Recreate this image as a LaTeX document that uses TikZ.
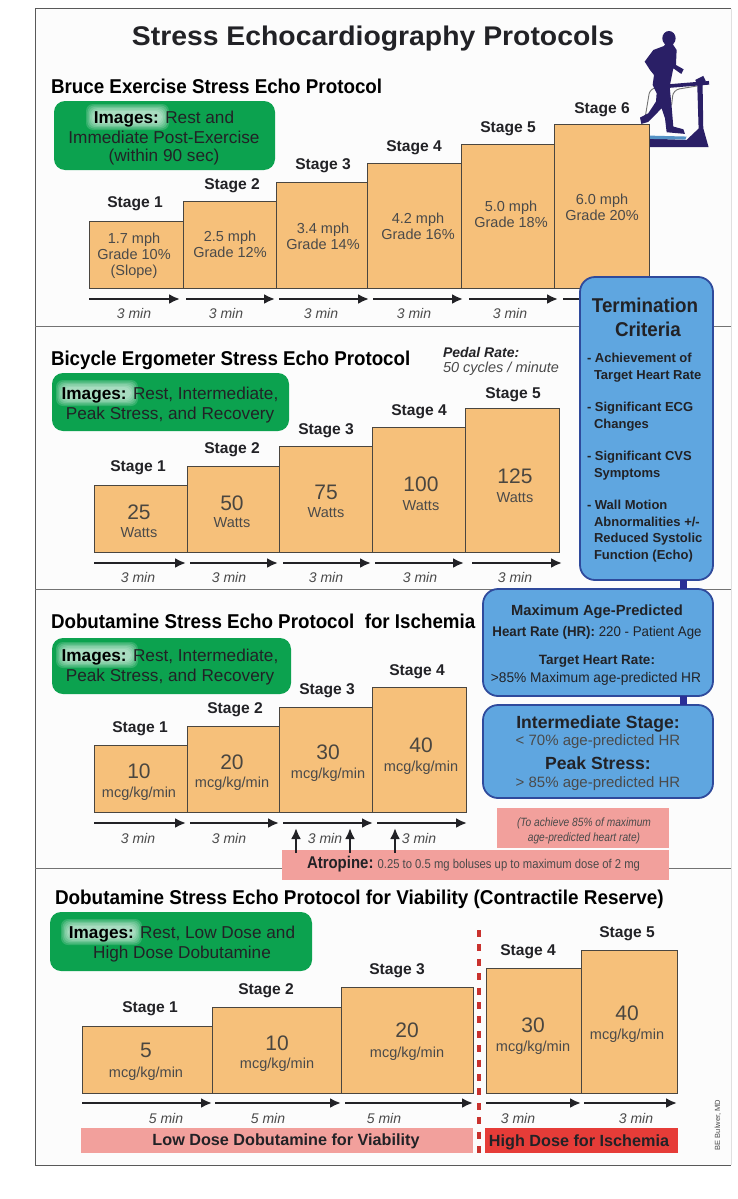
\documentclass[tikz,border=0pt]{standalone}
\usepackage{fontspec}
\usepackage{graphicx}
\setmainfont{Liberation Sans}
\usetikzlibrary{calc,arrows.meta}
\definecolor{stageorange}{HTML}{F6C07A}
\definecolor{stageedge}{HTML}{4A4640}
\definecolor{imggreen}{HTML}{0CA24F}
\definecolor{critblue}{HTML}{5FA6E0}
\definecolor{critedge}{HTML}{2F4A9C}
\definecolor{linkblue}{HTML}{2A2F96}
\definecolor{notepink}{HTML}{F2A09C}
\definecolor{hired}{HTML}{E63C38}
\definecolor{dashred}{HTML}{C9322E}
\definecolor{inkdark}{HTML}{222226}
\definecolor{inkgrey}{HTML}{4A4A4A}
\definecolor{runner}{HTML}{2A1F66}
\newcommand\fs[1]{\fontsize{#1}{#1}\selectfont}
\tikzset{
  txt/.style={inner sep=0pt,outer sep=0pt,align=center,text=inkgrey},
  stagelab/.style={txt,text=inkdark,font=\fs{15.6}\bfseries,text height=13.4pt,text depth=2.2pt},
  heading/.style={txt,anchor=west,text=black,font=\fs{20}\bfseries,text height=17.4pt,text depth=3pt},
  speed/.style={txt,font=\fs{14.5},text height=12.4pt,text depth=2pt},
  bignum/.style={txt,text=stageedge,font=\fs{21},text height=18pt,text depth=3pt},
  unit/.style={txt,font=\fs{14.5},text height=12.4pt,text depth=2pt},
  dur/.style={txt,font=\fs{14}\itshape,text height=12pt,text depth=2pt},
  imgtxt/.style={txt,text=inkdark,font=\fs{17.2},text height=14.8pt,text depth=2.4pt},
  stagebox/.style={draw=stageedge,line width=1pt,fill=stageorange,inner sep=0pt,outer sep=0pt,anchor=north west},
  imgbox/.style={fill=imggreen,rounded corners=11pt,inner sep=0pt,outer sep=0pt,anchor=north west},
  critbox/.style={draw=critedge,line width=1.8pt,fill=critblue,rounded corners=15pt,inner sep=0pt,outer sep=0pt,anchor=north west},
  pinkbox/.style={fill=notepink,inner sep=0pt,outer sep=0pt,anchor=north west},
  flow/.style={draw=inkdark,line width=2.4pt,-{Latex[length=11pt,width=10pt]}},
  crit/.style={txt,anchor=west,align=left,text=inkdark,font=\fs{13}\bfseries,text height=11.2pt,text depth=2pt},
  sectionrule/.style={draw=black!55,line width=1pt},
}
\newcommand\rbox[6]{\node[#1,minimum width=#5pt-#3pt,minimum height=#6pt-#4pt] (#2) at (#3,#4) {};}
\newcommand\sbx[5]{\rbox{stagebox}{#1}{#2}{#3}{#4}{#5}}
\newcommand\lab[4]{\node[#1] (#2) at (#3) {#4};}
\newcommand\arr[4]{\coordinate (#1a) at (#2,#4);\coordinate (#1b) at (#3,#4);\draw[flow] (#1a) -- (#1b);}
\newcommand\halo[4]{\foreach \k in {0,1,...,5}{\fill[white,opacity=.16,rounded corners=7pt] ({#1-6+\k*1.4},{#2-6+\k*1.4}) rectangle ({#3+6-\k*1.4},{#4+6-\k*1.4});}}
\begin{document}
\begin{tikzpicture}[x=1pt,y=-1pt]
\useasboundingbox (0,0) rectangle (737,1199);
\fill[white] (0,0) rectangle (737,1199);
% frame
\coordinate (fTL) at (35,9);\coordinate (fTR) at (731,9);\coordinate (fBL) at (35,1165);\coordinate (fBR) at (731,1165);
\fill[black!1] (fTL) rectangle (fBR);
\draw[black!65,line width=1pt] (fTR) -- (fTL) -- (fBL) -- (fBR);
\draw[black!12,line width=1pt] (fTR) -- (fBR);
% section rules
\foreach \n/\y in {a/326,b/589,c/868}{
  \coordinate (r\n l) at (35,\y);\coordinate (r\n r) at (731,\y);
  \draw[sectionrule] (r\n l) -- (r\n r);
}
% title
\lab{txt,text=inkdark,font=\fs{27}\bfseries,text height=23.5pt,text depth=5pt}{title}{373,36}{\scalebox{1.05}[1]{Stress Echocardiography Protocols}}
% treadmill and runner
\begin{scope}[shift={(640,30)},x=0.333pt,y=-0.333pt]
  \draw[black!55,line width=.9pt,rounded corners=6pt] (15,265) -- (30,175) -- (85,170);
  \draw[black!55,line width=.9pt,rounded corners=6pt] (95,225) -- (100,180) -- (172,168);
  \fill[runner] (85,163) -- (207,153) -- (208,164) -- (85,174) -- cycle;
  \fill[runner] (166,150) -- (190,138) -- (197,152) -- (188,166) -- (190,295) -- (206,352) -- (20,352) -- (20,326) -- (140,330) -- (176,296) -- (172,166) -- cycle;
  \fill[critblue!88!black] (22,317) -- (140,320) -- (136,329) -- (22,327) -- cycle;
  \fill[runner] (87,25) ellipse (20 and 22);
  \fill[runner] (76,42) -- (72,48) -- (40,60) -- (14,95) -- (30,120) -- (42,135) -- (38,165) -- (50,190) -- (48,215) -- (25,250) -- (0,263) -- (4,282) -- (25,276) -- (65,235) -- (75,265) -- (80,307) -- (135,312) -- (130,298) -- (100,290) -- (95,230) -- (90,180) -- (90,165) -- (100,115) -- (124,132) -- (131,118) -- (108,105) -- (110,60) -- (100,45) -- (98,40) -- cycle;
\end{scope}
% ---------- Bruce
\lab{heading}{hBruce}{51,86}{\scalebox{.94}[1]{Bruce Exercise Stress Echo Protocol}}
\rbox{imgbox}{gBruce}{54}{101}{275}{170}
\halo{92}{110}{163}{124}
\lab{imgtxt}{gB1}{164,117}{\textcolor{black}{\bfseries Images:} Rest and}
\lab{imgtxt}{gB2}{164,137}{Immediate Post-Exercise}
\lab{imgtxt}{gB3}{164,155}{(within 90 sec)}
\arr{bA}{89}{180}{299}\arr{bB}{186}{275}{299}\arr{bC}{279}{369}{299}\arr{bD}{373}{463}{299}\arr{bE}{469}{558}{299}
\coordinate (bFa) at (563,299);\coordinate (bFb) at (590,299);\draw[draw=inkdark,line width=2.4pt] (bFa) -- (bFb);
\sbx{b1}{89}{221}{183}{288}\sbx{b2}{183}{201}{276}{288}\sbx{b3}{276}{182}{367}{288}\sbx{b4}{367}{163}{461}{288}\sbx{b5}{461}{144}{554}{288}\sbx{b6}{554}{124}{649}{288}
\lab{stagelab}{bs1}{135,202}{Stage 1}\lab{stagelab}{bs2}{232,184}{Stage 2}\lab{stagelab}{bs3}{323,164}{Stage 3}\lab{stagelab}{bs4}{414,146}{Stage 4}\lab{stagelab}{bs5}{508,127}{Stage 5}\lab{stagelab}{bs6}{602,108}{Stage 6}
\lab{speed}{bt1}{134,238}{1.7 mph}\lab{speed}{bg1}{134,254}{Grade 10\%}\lab{speed}{bo1}{134,270}{(Slope)}
\lab{speed}{bt2}{230,236}{2.5 mph}\lab{speed}{bg2}{230,252}{Grade 12\%}
\lab{speed}{bt3}{323,228}{3.4 mph}\lab{speed}{bg3}{323,244}{Grade 14\%}
\lab{speed}{bt4}{418,218}{4.2 mph}\lab{speed}{bg4}{418,234}{Grade 16\%}
\lab{speed}{bt5}{511,206}{5.0 mph}\lab{speed}{bg5}{511,222}{Grade 18\%}
\lab{speed}{bt6}{602,199}{6.0 mph}\lab{speed}{bg6}{602,215}{Grade 20\%}
\lab{dur}{bd1}{134,313}{3 min}\lab{dur}{bd2}{226,313}{3 min}\lab{dur}{bd3}{321,313}{3 min}\lab{dur}{bd4}{414,313}{3 min}\lab{dur}{bd5}{510,313}{3 min}
% ---------- Bicycle
\lab{heading}{hBike}{51,358}{\scalebox{.937}[1]{Bicycle Ergometer Stress Echo Protocol}}
\lab{txt,anchor=west,font=\fs{14}\bfseries\itshape,text=inkdark}{pedal1}{443,352}{Pedal Rate:}
\lab{txt,anchor=west,font=\fs{14.5}\itshape}{pedal2}{443,369}{50 cycles / minute}
\rbox{imgbox}{gBike}{52}{373}{289}{431}
\halo{62}{386}{132}{400}
\lab{imgtxt}{gC1}{170,393}{\textcolor{black}{\bfseries Images:} Rest, Intermediate,}
\lab{imgtxt}{gC2}{170,413}{Peak Stress, and Recovery}
\arr{cA}{94}{186}{563}\arr{cB}{190}{278}{563}\arr{cC}{283}{371}{563}\arr{cD}{375}{464}{563}\arr{cE}{472}{562}{563}
\sbx{c1}{94}{485}{187}{552}\sbx{c2}{187}{466}{279}{552}\sbx{c3}{279}{446}{372}{552}\sbx{c4}{372}{427}{465}{552}\sbx{c5}{465}{408}{559}{552}
\lab{stagelab}{cs1}{138,466}{Stage 1}\lab{stagelab}{cs2}{232,448}{Stage 2}\lab{stagelab}{cs3}{326,429}{Stage 3}\lab{stagelab}{cs4}{419,410}{Stage 4}\lab{stagelab}{cs5}{513,393}{Stage 5}
\lab{bignum}{cn1}{139,512}{25}\lab{unit}{cu1}{139,532}{Watts}
\lab{bignum}{cn2}{232,503}{50}\lab{unit}{cu2}{232,522}{Watts}
\lab{bignum}{cn3}{326,492}{75}\lab{unit}{cu3}{326,512}{Watts}
\lab{bignum}{cn4}{421,484}{100}\lab{unit}{cu4}{421,505}{Watts}
\lab{bignum}{cn5}{515,476}{125}\lab{unit}{cu5}{515,497}{Watts}
\lab{dur}{cd1}{138,577}{3 min}\lab{dur}{cd2}{229,577}{3 min}\lab{dur}{cd3}{326,577}{3 min}\lab{dur}{cd4}{420,577}{3 min}\lab{dur}{cd5}{515,577}{3 min}
% ---------- Dobutamine ischemia
\lab{heading}{hDob}{51,621}{\scalebox{.938}[1]{Dobutamine Stress Echo Protocol\ \ for Ischemia}}
\rbox{imgbox}{gDob}{52}{638}{291}{694}
\halo{62}{648}{132}{662}
\lab{imgtxt}{gD1}{170,655}{\textcolor{black}{\bfseries Images:} Rest, Intermediate,}
\lab{imgtxt}{gD2}{170,675}{Peak Stress, and Recovery}
\arr{dA}{94}{186}{823}\arr{dB}{190}{279}{823}\arr{dC}{283}{373}{823}\arr{dD}{377}{467}{823}
\sbx{d1}{94}{745}{187}{812}\sbx{d2}{187}{726}{279}{812}\sbx{d3}{279}{707}{372}{812}\sbx{d4}{372}{687}{466}{812}
\lab{stagelab}{ds1}{140,727}{Stage 1}\lab{stagelab}{ds2}{235,708}{Stage 2}\lab{stagelab}{ds3}{327,689}{Stage 3}\lab{stagelab}{ds4}{417,670}{Stage 4}
\lab{bignum}{dn1}{139,771}{10}\lab{unit}{du1}{139,792}{mcg/kg/min}
\lab{bignum}{dn2}{232,762}{20}\lab{unit}{du2}{232,782}{mcg/kg/min}
\lab{bignum}{dn3}{328,752}{30}\lab{unit}{du3}{328,773}{mcg/kg/min}
\lab{bignum}{dn4}{421,745}{40}\lab{unit}{du4}{421,766}{mcg/kg/min}
\lab{dur}{dd1}{138,838}{3 min}\lab{dur}{dd2}{229,838}{3 min}\lab{dur}{dd3}{325,838}{3 min}\lab{dur}{dd4}{419,838}{3 min}
\rbox{pinkbox}{noteBox}{497}{808}{669}{848}
\lab{txt,font=\fs{12}\itshape}{note1}{584,823}{\scalebox{.85}[1]{(To achieve 85\% of maximum}}
\lab{txt,font=\fs{12}\itshape}{note2}{584,838}{\scalebox{.85}[1]{age-predicted heart rate)}}
\rbox{pinkbox}{atroBox}{282}{850}{669}{880}
\lab{txt,font=\fs{12.8}}{atro}{473.5,864}{\scalebox{.88}[1]{\textcolor{inkdark}{\fs{17}\bfseries Atropine:} 0.25 to 0.5 mg boluses up to maximum dose of 2 mg}}
\foreach \n/\x in {u/296,v/350,w/395}{
  \coordinate (\n a) at (\x,853);\coordinate (\n b) at (\x,828);
  \draw[draw=inkdark,line width=2.4pt,-{Latex[length=11pt,width=10pt]}] (\n a) -- (\n b);
}
% ---------- Dobutamine viability
\lab{heading}{hVia}{55,897}{\scalebox{.945}[1]{Dobutamine Stress Echo Protocol for Viability (Contractile Reserve)}}
\rbox{imgbox}{gVia}{50}{912}{312}{971}
\halo{67}{925}{136}{939}
\lab{imgtxt}{gV1}{182,932}{\textcolor{black}{\bfseries Images:} Rest, Low Dose and}
\lab{imgtxt}{gV2}{182,952}{High Dose Dobutamine}
\coordinate (dashA) at (479,930);\coordinate (dashB) at (479,1154);
\draw[draw=dashred,line width=3.5pt,dash pattern=on 7pt off 7.4pt] (dashA) -- (dashB);
\arr{vA}{82}{212}{1103}\arr{vB}{215}{341}{1103}\arr{vC}{345}{473}{1103}\arr{vD}{486}{581}{1103}\arr{vE}{584}{677}{1103}
\sbx{v1}{82}{1026}{212}{1093}\sbx{v2}{212}{1007}{341}{1093}\sbx{v3}{341}{987}{473}{1093}\sbx{v4}{486}{968}{581}{1093}\sbx{v5}{581}{950}{677}{1093}
\lab{stagelab}{vs1}{150,1007}{Stage 1}\lab{stagelab}{vs2}{266,989}{Stage 2}\lab{stagelab}{vs3}{397,969}{Stage 3}\lab{stagelab}{vs4}{528,950}{Stage 4}\lab{stagelab}{vs5}{627,932}{Stage 5}
\lab{bignum}{vn1}{146,1050}{5}\lab{unit}{vu1}{146,1072}{mcg/kg/min}
\lab{bignum}{vn2}{277,1043}{10}\lab{unit}{vu2}{277,1063}{mcg/kg/min}
\lab{bignum}{vn3}{407,1030}{20}\lab{unit}{vu3}{407,1052}{mcg/kg/min}
\lab{bignum}{vn4}{533,1025}{30}\lab{unit}{vu4}{533,1046}{mcg/kg/min}
\lab{bignum}{vn5}{627,1013}{40}\lab{unit}{vu5}{627,1034}{mcg/kg/min}
\lab{dur}{vd1}{166,1118}{5 min}\lab{dur}{vd2}{268,1118}{5 min}\lab{dur}{vd3}{384,1118}{5 min}\lab{dur}{vd4}{518,1118}{3 min}\lab{dur}{vd5}{636,1118}{3 min}
\rbox{pinkbox}{lowBar}{81}{1128}{473}{1153}
\rbox{pinkbox,fill=hired}{highBar}{485}{1128}{678}{1153}
\lab{txt,text=inkdark,font=\fs{16.2}\bfseries,text height=14pt,text depth=2.4pt}{lowTxt}{286,1140}{Low Dose Dobutamine for Viability}
\lab{txt,text=inkdark,font=\fs{16.2}\bfseries,text height=14pt,text depth=2.4pt}{highTxt}{579,1141}{High Dose for Ischemia}
\node[txt,rotate=90,font=\fs{7.5}] (credit) at (718,1125) {BE Bulwer, MD};
% ---------- criteria boxes
\rbox{critbox}{term}{580}{277}{713}{580}
\rbox{critbox}{maxhr}{483}{589}{713}{696}
\rbox{critbox}{stages}{483}{705}{713}{798}
\draw[draw=linkblue,line width=7pt] ($(term.south)+(37,0)$) -- ($(maxhr.north)+(85.5,0)$);
\draw[draw=linkblue,line width=7pt] ($(maxhr.south)+(85.5,0)$) -- ($(stages.north)+(85.5,0)$);
\lab{txt,text=inkdark,font=\fs{20}\bfseries,text height=17.4pt,text depth=3pt}{t1}{645,305}{\scalebox{.94}[1]{Termination}}
\lab{txt,text=inkdark,font=\fs{20}\bfseries,text height=17.4pt,text depth=3pt}{t2}{648,329}{\scalebox{.94}[1]{Criteria}}
\lab{crit}{c11}{587,358}{- Achievement of}\lab{crit}{c12}{594,375}{Target Heart Rate}
\lab{crit}{c21}{587,407}{- Significant ECG}\lab{crit}{c22}{594,424}{Changes}
\lab{crit}{c31}{587,456}{- Significant CVS}\lab{crit}{c32}{594,473}{Symptoms}
\lab{crit}{c41}{587,505}{- Wall Motion}\lab{crit}{c42}{594,522}{Abnormalities +/-}\lab{crit}{c43}{594,538}{Reduced Systolic}\lab{crit}{c44}{594,555}{Function (Echo)}
\lab{txt,text=inkdark,font=\fs{14.7}\bfseries,text height=12.6pt,text depth=2.4pt}{m1}{597,610}{Maximum Age-Predicted}
\lab{txt,text=inkdark,font=\fs{14},text height=12pt,text depth=2.4pt}{m2}{597,632}{\scalebox{.95}[1]{\bfseries Heart Rate (HR): \mdseries 220 - Patient Age}}
\lab{txt,text=inkdark,font=\fs{13.5}\bfseries,text height=11.6pt,text depth=2.2pt}{m3}{597,660}{Target Heart Rate:}
\lab{txt,text=inkdark,font=\fs{14},text height=12pt,text depth=2.4pt}{m4}{596,678}{\scalebox{.98}[1]{>85\% Maximum age-predicted HR}}
\lab{txt,text=inkdark,font=\fs{17.6}\bfseries,text height=15pt,text depth=2.6pt}{s1}{598,722}{Intermediate Stage:}
\lab{txt,font=\fs{15},text height=13pt,text depth=2.4pt}{s2}{598,740}{< 70\% age-predicted HR}
\lab{txt,text=inkdark,font=\fs{17.6}\bfseries,text height=15pt,text depth=2.6pt}{s3}{598,763}{Peak Stress:}
\lab{txt,font=\fs{15},text height=13pt,text depth=2.4pt}{s4}{598,782}{> 85\% age-predicted HR}
\end{tikzpicture}
\end{document}
